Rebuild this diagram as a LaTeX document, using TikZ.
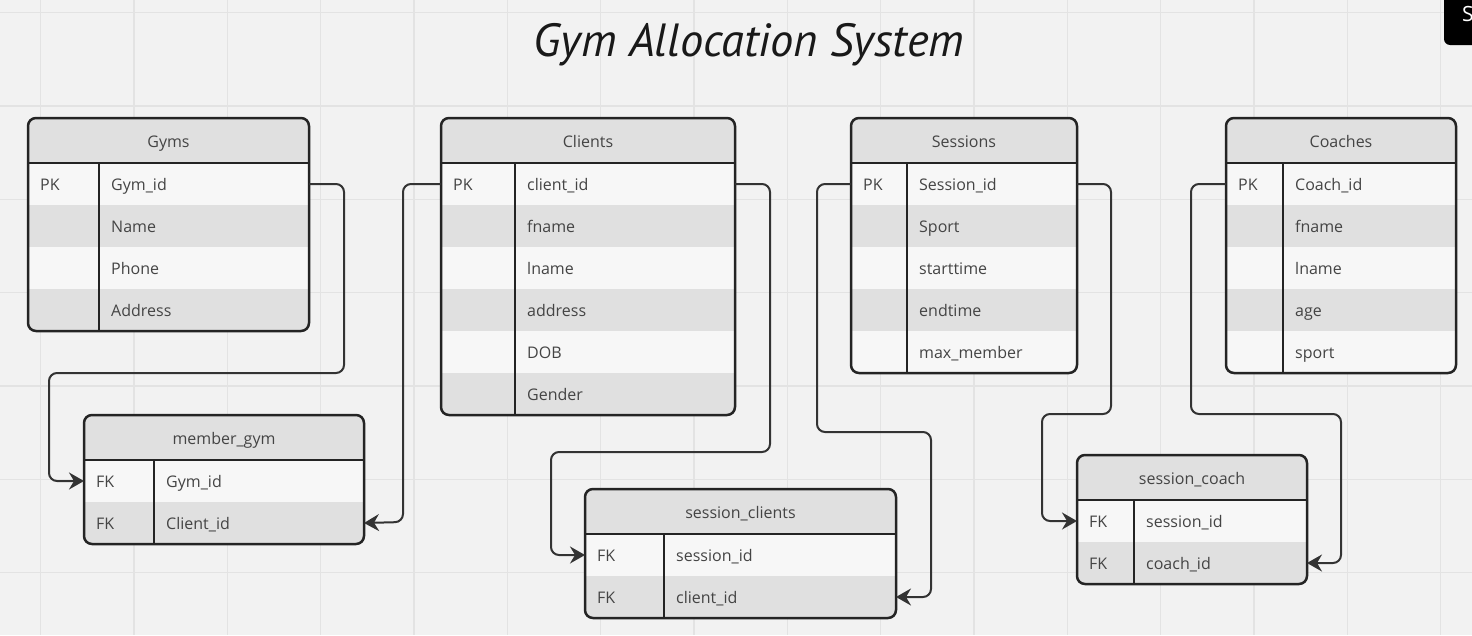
\documentclass[tikz,border=0pt]{standalone}
\usepackage{fontspec}
\setmainfont{Open Sans}
\newfontfamily\titlefont{PT Sans}
\usetikzlibrary{arrows.meta}
\definecolor{bg}{HTML}{F2F2F2}
\definecolor{gridc}{HTML}{E3E3E3}
\definecolor{hdrc}{HTML}{E0E0E0}
\definecolor{lightc}{HTML}{F7F7F7}
\definecolor{darkc}{HTML}{E0E0E0}
\definecolor{linec}{HTML}{242424}
\definecolor{txtc}{HTML}{444444}
\definecolor{connc}{HTML}{333333}
\tikzset{
  gridline/.style={draw=gridc, line width=1.5pt},
  tblbox/.style={draw=linec, line width=2.5pt, rounded corners=8pt, inner sep=0pt, outer sep=0pt, rectangle},
  border/.style={draw=linec, line width=2.5pt},
  keytxt/.style={anchor=base west, inner sep=0pt, text=txtc, font=\fontsize{16}{18}\selectfont},
  fldtxt/.style={anchor=base west, inner sep=0pt, text=txtc, font=\fontsize{16}{18}\selectfont},
  titletxt/.style={anchor=base, inner sep=0pt, text=txtc, font=\fontsize{16}{18}\selectfont},
  conn/.style={draw=connc, line width=2pt, rounded corners=8pt, line join=round,
    -{Stealth[length=15pt,width=17pt,inset=5pt]}},
}
\newcommand{\ertable}[8]{%
  \pgfmathsetmacro\erH{45+42*#6}%
  \begin{scope}
    \clip[rounded corners=8pt] (#2,#3) rectangle ++(#4,\erH);
    \fill[hdrc] (#2,#3) rectangle ++(#4,45);
    \foreach \ekey/\efld [count=\ridx from 0] in {#8} {
      \pgfmathsetmacro\ry{#3+45+42*\ridx}
      \pgfmathtruncatemacro\odd{mod(\ridx,2)}
      \ifnum\odd=0 \fill[lightc] (#2,\ry) rectangle ++(#4,42); \else \fill[darkc] (#2,\ry) rectangle ++(#4,42); \fi
      \node[keytxt] (#1-k\ridx) at (#2+12,\ry+27) {\ekey};
      \node[fldtxt] (#1-f\ridx) at (#2+#5+12,\ry+27) {\efld};
      \coordinate (#1-l\ridx) at (#2,\ry+21);
      \coordinate (#1-r\ridx) at (#2+#4,\ry+21);
    }
  \end{scope}
  \node[tblbox, minimum width=#4pt, minimum height=\erH pt, anchor=north west] (#1) at (#2,#3) {};
  \draw[border] (#2,#3+45) -- ++(#4,0);
  \draw[border] (#2+#5,#3+45) -- (#2+#5,#3+\erH);
  \node[titletxt] (#1-t) at (#2+#4/2,#3+29) {#7};
}
\begin{document}
\begin{tikzpicture}[x=1pt,y=-1pt]
\useasboundingbox (0,0) rectangle (1472,635);
\fill[bg] (0,0) rectangle (1472,635);
\foreach \gx in {0,...,15} { \draw[gridline] (40.7+93.33*\gx,0) -- (40.7+93.33*\gx,635); }
\foreach \gy in {0,...,6} { \draw[gridline] (0,12.7+93.33*\gy) -- (1472,12.7+93.33*\gy); }

% share button (cut off)
\fill[black, rounded corners=6pt] (1444,-20) rectangle (1500,45);
\node[anchor=base west, inner sep=0pt, text=white, font=\fontsize{21}{24}\selectfont] (sharebtn) at (1462,21) {S};

% title
\node[anchor=base, inner sep=0pt, text=black!90, font=\titlefont\itshape\fontsize{46.5}{50}\selectfont] (title) at (749,56) {Gym Allocation System};

\ertable{gy}{28}{118}{281}{71}{4}{Gyms}{PK/Gym\_id, /Name, /Phone, /Address}
\ertable{cl}{441}{118}{294}{74}{6}{Clients}{PK/client\_id, /fname, /lname, /address, /DOB, /Gender}
\ertable{se}{851}{118}{226}{56}{5}{Sessions}{PK/Session\_id, /Sport, /starttime, /endtime, /max\_member}
\ertable{co}{1226}{118}{230}{57}{5}{Coaches}{PK/Coach\_id, /fname, /lname, /age, /sport}
\ertable{mg}{84}{415}{280}{70}{2}{member\_gym}{FK/Gym\_id, FK/Client\_id}
\ertable{sc}{585}{489}{311}{79}{2}{session\_clients}{FK/session\_id, FK/client\_id}
\ertable{sco}{1077}{455}{230}{57}{2}{session\_coach}{FK/session\_id, FK/coach\_id}

% connectors
\draw[conn] (gy-r0) -| (344,373) -| (49,481) -- (mg-l0);
\draw[conn] (cl-l0) -| (403,522) -- (mg-r1);
\draw[conn] (cl-r0) -| (770,452) -| (551,555) -- (sc-l0);
\draw[conn] (se-l0) -| (817,432) -| (931,597) -- (sc-r1);
\draw[conn] (se-r0) -| (1111,414) -| (1042,521) -- (sco-l0);
\draw[conn] (co-l0) -| (1191,414) -| (1341,563) -- (sco-r1);
\end{tikzpicture}
\end{document}
